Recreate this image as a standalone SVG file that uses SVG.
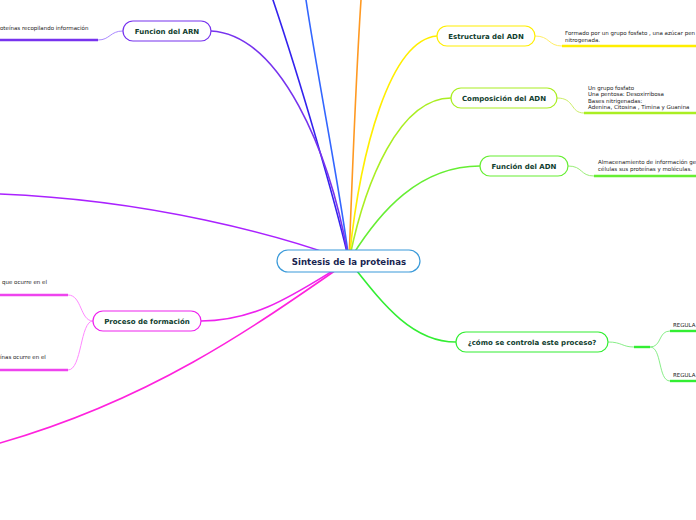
<svg xmlns="http://www.w3.org/2000/svg" width="696" height="520" viewBox="0 0 696 520">
<style>
.main{fill:none;stroke-width:1.6;stroke-linecap:round}
.sub{fill:none;stroke-width:1}
.ul{fill:none;stroke-width:2.4}
.node{fill:#fff;stroke-width:1.2}
.lbl{font-family:"DejaVu Sans",Verdana,sans-serif;font-weight:bold;font-size:7px;fill:#0f3d2e;text-anchor:middle}
.txt{font-family:"DejaVu Sans",Verdana,sans-serif;font-size:5.5px;fill:#222}
</style>
<rect width="696" height="520" fill="#fff"/>
<g id="connectors">
<path class="main" stroke="#3322ee" d="M349,261 C335,200 300,80 273,0"/>
<path class="main" stroke="#3366ff" d="M349,261 C342,200 318,80 306,0"/>
<path class="main" stroke="#ff9922" d="M349,261 C352,180 357,60 361,0"/>
<path class="main" stroke="#7733ee" d="M349,261 C330,150 280,35 211,31"/>
<path class="main" stroke="#ffee00" d="M349,261 C360,150 390,40 437,36"/>
<path class="main" stroke="#aaee22" d="M349,261 C365,180 400,98 451,98"/>
<path class="main" stroke="#66ee33" d="M349,261 C380,210 420,166 480,166"/>
<path class="main" stroke="#33ee33" d="M349,261 C380,300 410,342 456,342"/>
<path class="main" stroke="#ee22ee" d="M349,261 C300,290 260,321 201,321"/>
<path class="main" stroke="#ff22dd" d="M349,261 C250,330 150,400 0,443"/>
<path class="main" stroke="#aa22ff" d="M349,261 C280,235 150,200 0,194"/>
<path class="sub" stroke="#aa88ff" d="M123,31 C110,31 110,40 98,40"/>
<path class="ul" stroke="#7733ee" d="M0,40 H98"/>
<path class="sub" stroke="#ffee66" d="M535,36 C550,36 548,46 562,46"/>
<path class="ul" stroke="#ffee00" d="M562,46 H696"/>
<path class="sub" stroke="#ccee66" d="M557,98 C575,98 570,113 584,113"/>
<path class="ul" stroke="#aaee22" d="M584,113 H696"/>
<path class="sub" stroke="#99ee77" d="M568,166 C583,166 580,176 594,176"/>
<path class="ul" stroke="#66ee33" d="M594,176 H696"/>
<path class="sub" stroke="#88ee88" d="M608,342 C622,342 622,347 634,347"/>
<path class="ul" stroke="#33ee33" d="M634,347 H650"/>
<path class="sub" stroke="#88ee88" d="M650,347 C662,347 658,331 670,331"/>
<path class="sub" stroke="#88ee88" d="M650,347 C662,347 658,381 670,381"/>
<path class="ul" stroke="#33ee33" d="M670,331 H696"/>
<path class="ul" stroke="#33ee33" d="M670,381 H696"/>
<path class="sub" stroke="#ff88ff" d="M93,321 C80,321 82,295 68,295"/>
<path class="sub" stroke="#ff88ff" d="M93,321 C80,321 82,370 68,370"/>
<path class="ul" stroke="#ee44ee" d="M0,295 H68"/>
<path class="ul" stroke="#ee44ee" d="M0,370 H68"/>
</g>
<g id="central">
<rect class="node" x="277" y="250" width="143" height="22" rx="11" stroke="#3a9ad9"/>
<text x="349" y="264.5" style="font-family:'DejaVu Sans',Verdana,sans-serif;font-weight:bold;font-size:8.6px;fill:#1a2550;text-anchor:middle">Sintesis de la proteinas</text>
</g>
<g id="funcion-arn">
<rect class="node" x="123" y="21" width="88" height="20" rx="10" stroke="#7733ee"/>
<text class="lbl" x="167" y="33.5">Funcion del ARN</text>
<text class="txt" x="0" y="30">oteínas recopilando información</text>
</g>
<g id="estructura-adn">
<rect class="node" x="437" y="26" width="98" height="20" rx="10" stroke="#ffee00"/>
<text class="lbl" x="486" y="38.5">Estructura del ADN</text>
<text class="txt" x="565" y="35">Formado por un grupo fosfato , una azúcar pen</text>
<text class="txt" x="565" y="42">nitrogenada.</text>
</g>
<g id="composicion-adn">
<rect class="node" x="451" y="88" width="106" height="20" rx="10" stroke="#aaee22"/>
<text class="lbl" x="504" y="100.5">Composición del ADN</text>
<text class="txt" x="588" y="90">Un grupo fosfato</text>
<text class="txt" x="588" y="96">Una pentosa: Desoxirribosa</text>
<text class="txt" x="588" y="103">Bases nitrigenadas:</text>
<text class="txt" x="588" y="109">Adenina, Citosina , Timina y Guanina</text>
</g>
<g id="funcion-adn">
<rect class="node" x="480" y="156" width="88" height="20" rx="10" stroke="#66ee33"/>
<text class="lbl" x="524" y="168.5">Función del ADN</text>
<text class="txt" x="598" y="164">Almacenamiento de información ge</text>
<text class="txt" x="598" y="171">células sus proteínas y moléculas.</text>
</g>
<g id="como-controla">
<rect class="node" x="456" y="332" width="152" height="20" rx="10" stroke="#33ee33"/>
<text class="lbl" x="532" y="344.5">¿cómo se controla este proceso?</text>
<text class="txt" x="673" y="327">REGULA</text>
<text class="txt" x="673" y="377">REGULA</text>
</g>
<g id="proceso-formacion">
<rect class="node" x="93" y="311" width="108" height="20" rx="10" stroke="#ee22ee"/>
<text class="lbl" x="147" y="323.5">Proceso de formación</text>
<text class="txt" x="2" y="284">que ocurre en el</text>
<text class="txt" x="0" y="359">ínas ocurre en el</text>
</g>
</svg>
